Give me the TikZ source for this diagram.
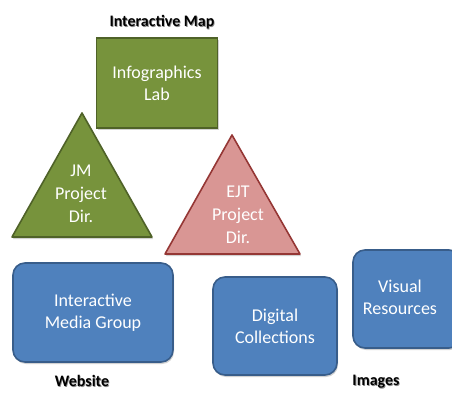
\documentclass[tikz,border=0pt]{standalone}
\usepackage{fontspec}
\setmainfont{Carlito}
\usetikzlibrary{shadows}
\definecolor{olivefill}{HTML}{77933C}
\definecolor{oliveline}{HTML}{4F6228}
\definecolor{rosefill}{HTML}{D99694}
\definecolor{roseline}{HTML}{953735}
\definecolor{bluefill}{HTML}{4F81BD}
\definecolor{blueline}{HTML}{385D8A}
\tikzset{
  shade/.style={drop shadow={opacity=0.35, shadow xshift=1pt, shadow yshift=-2pt}},
  labbox/.style={draw=oliveline, line width=1.6pt, fill=olivefill, shade,
    text=white, align=center, font=\fontsize{18}{22}\selectfont},
  unitbox/.style={draw=blueline, line width=1.6pt, fill=bluefill, shade,
    rounded corners=12pt, text=white, align=center,
    font=\fontsize{18}{22}\selectfont},
  greentri/.style={draw=oliveline, line width=1.6pt, fill=olivefill, line join=round, shade},
  rosetri/.style={draw=roseline, line width=1.6pt, fill=rosefill, line join=round, shade},
  tritext/.style={text=white, align=center, font=\fontsize{18}{23}\selectfont},
  caption/.style={font=\bfseries\fontsize{16}{18}\selectfont, text=black,
    inner sep=0pt},
  captionshadow/.style={caption, text=black!45, xshift=0.8pt, yshift=-1pt}
}
\begin{document}
\begin{tikzpicture}[x=1pt, y=-1pt]
  \useasboundingbox (0,0) rectangle (452,393);
  \fill[white] (0,0) rectangle (452,393);

  % group captions
  \node[captionshadow] at (162,22) {Interactive Map};
  \node[caption] (capmap) at (162,22) {Interactive Map};
  \node[captionshadow] at (82,381) {Website};
  \node[caption] (capweb) at (82,381) {Website};
  \node[captionshadow] at (376,382) {Images};
  \node[caption] (capimg) at (376,382) {Images};

  % lab box
  \node[labbox, minimum width=121pt, minimum height=90pt] (lab) at (157,83)
    {Infographics\\Lab};

  % project director triangles
  \coordinate (jmtop) at (82,113);
  \coordinate (jmleft) at (12,237);
  \coordinate (jmright) at (152,237);
  \draw[greentri] (jmtop) -- (jmright) -- (jmleft) -- cycle;
  \node[tritext] (jm) at (81,194) {JM\\Project\\Dir.};

  \coordinate (ejttop) at (232,135);
  \coordinate (ejtleft) at (165,254);
  \coordinate (ejtright) at (300,254);
  \draw[rosetri] (ejttop) -- (ejtright) -- (ejtleft) -- cycle;
  \node[tritext] (ejt) at (238,215) {EJT\\Project\\Dir.};

  % units
  \node[unitbox, minimum width=160pt, minimum height=99pt] (img) at (93,312.5)
    {Interactive\\Media Group};
  \node[unitbox, minimum width=124pt, minimum height=98pt] (dc) at (275,326)
    {Digital\\Collections};
  \node[unitbox, minimum width=108pt, minimum height=98pt] (vr) at (407,299)
    {};
  \node[text=white, align=center, font=\fontsize{18}{22}\selectfont] (vrtext)
    at (400,297) {Visual\\Resources};
\end{tikzpicture}
\end{document}
